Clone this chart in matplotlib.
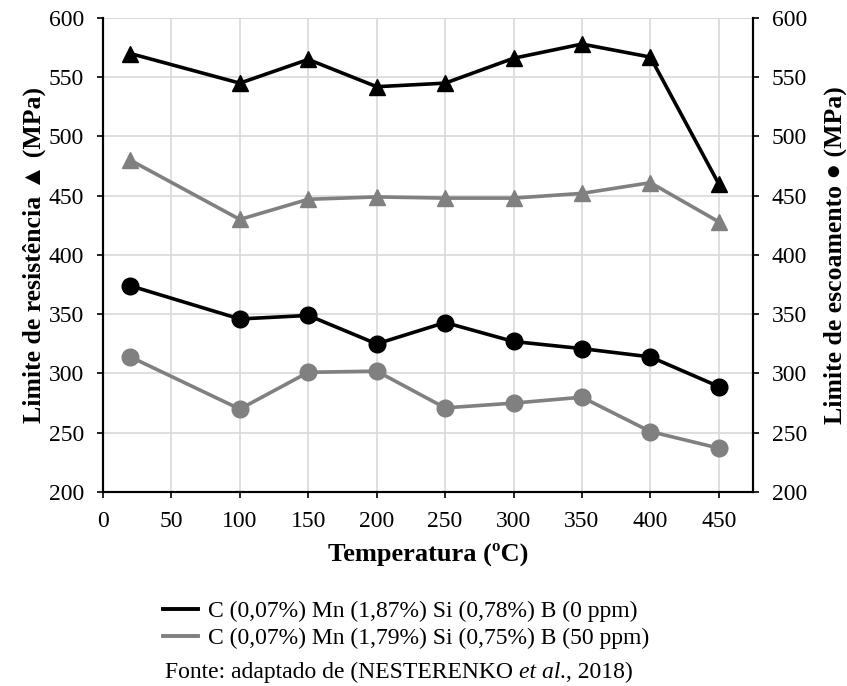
import matplotlib
matplotlib.use('Agg')
import matplotlib.pyplot as plt
from matplotlib.lines import Line2D

plt.rcParams['font.family'] = ['Liberation Serif', 'DejaVu Serif']

temp = [20, 100, 150, 200, 250, 300, 350, 400, 450]
# limite de resistencia (triangulos)
res_0ppm = [570, 545, 565, 542, 545, 566, 578, 567, 460]
res_50ppm = [480, 430, 447, 449, 448, 448, 452, 461, 428]
# limite de escoamento (circulos)
esc_0ppm = [374, 346, 349, 325, 343, 327, 321, 314, 289]
esc_50ppm = [314, 270, 301, 302, 271, 275, 280, 251, 237]

labels = ['C (0,07%) Mn (1,87%) Si (0,78%) B (0 ppm)',
          'C (0,07%) Mn (1,79%) Si (0,75%) B (50 ppm)']
fonte = [('Fonte: adaptado de (NESTERENKO ', 'normal'),
         ('et al.', 'italic'),
         (', 2018)', 'normal')]
black = '#000000'
gray = '#808080'

fig = plt.figure(figsize=(8.47, 6.86), dpi=100)
ax = fig.add_axes([0.1216, 0.2828, 0.7674, 0.691])
ax2 = ax.twinx()

ax.plot(temp, res_0ppm, color=black, lw=2.6, marker='^', ms=11.5, zorder=5)
ax.plot(temp, res_50ppm, color=gray, lw=2.6, marker='^', ms=11.5, zorder=4)
ax2.plot(temp, esc_0ppm, color=black, lw=2.6, marker='o', ms=12, zorder=5)
ax2.plot(temp, esc_50ppm, color=gray, lw=2.6, marker='o', ms=12, zorder=4)

for a in (ax, ax2):
    a.set_ylim(200, 600)
    a.set_yticks(range(200, 601, 50))
    a.set_xlim(0, 475)
    a.tick_params(labelsize=17, length=4.5, width=1.2, direction='out', pad=9)
    a.spines['top'].set_visible(False)
    for s in ('left', 'right', 'bottom'):
        a.spines[s].set_linewidth(1.5)

ax.set_xticks(range(0, 451, 50))
ax.grid(True, color='#d9d9d9', lw=1.2)
ax.set_axisbelow(True)
ax.axhline(600, color='#d9d9d9', lw=1.2, zorder=0)

ax.set_xlabel('Temperatura (ºC)', fontsize=19, fontweight='bold', labelpad=8)
ax.set_ylabel('Limite de resistência ▲ (MPa)', fontsize=18.5, fontweight='bold', labelpad=2)
ax2.set_ylabel('Limite de escoamento ● (MPa)', fontsize=18.5, fontweight='bold', labelpad=12)

handles = [Line2D([0], [0], color=black, lw=2.8),
           Line2D([0], [0], color=gray, lw=2.8)]
fig.legend(handles, labels, loc='center left', bbox_to_anchor=(163 / 847, 0.0889),
           bbox_transform=fig.transFigure, frameon=False, fontsize=17,
           handlelength=1.5, handletextpad=0.42, labelspacing=0.25,
           borderpad=0, borderaxespad=0)

# fonte line, with "et al." in italic
r = fig.canvas.get_renderer()
x = 165
for s, style in fonte:
    t = fig.text(x / 847, 0.012, s, fontstyle=style, fontsize=17,
                 ha='left', va='baseline')
    x += t.get_window_extent(r).width

fig.savefig('out.png', dpi=100)
